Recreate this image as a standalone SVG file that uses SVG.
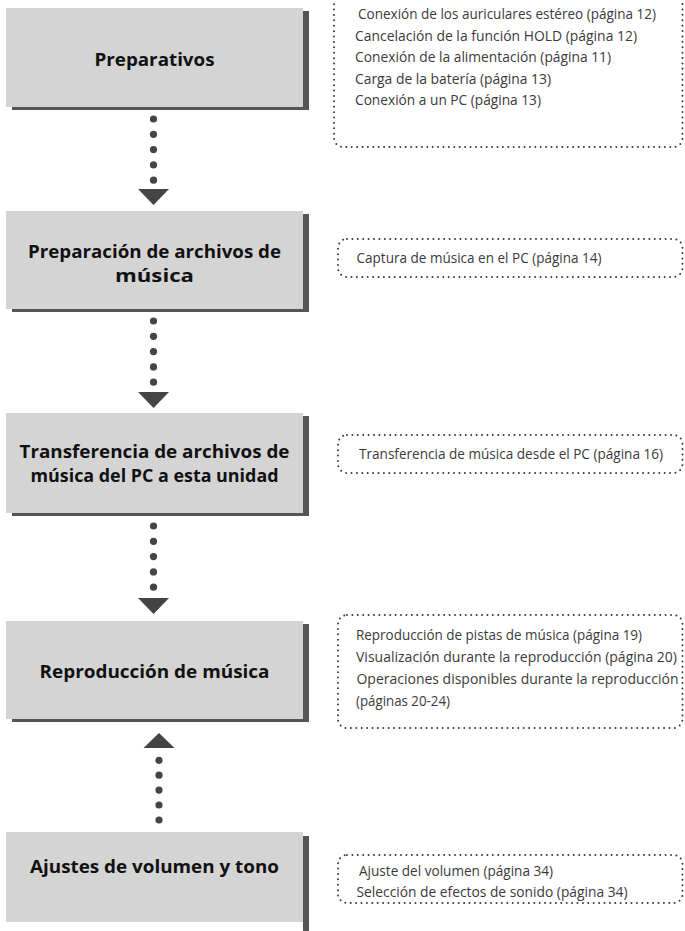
<svg xmlns="http://www.w3.org/2000/svg" width="685" height="931" viewBox="0 0 685 931">
<style>
.box{fill:#d4d4d4}
.sh{fill:#555555}
.title{font-family:"Open Sans","Noto Sans","Liberation Sans",sans-serif;font-weight:700;font-size:18.5px;fill:#111;text-anchor:middle}
.note{fill:none;stroke:#3a3a3a;stroke-width:2;stroke-linecap:round;stroke-dasharray:0 5.4}
.item{font-family:"Open Sans","Noto Sans","Liberation Sans",sans-serif;font-size:14px;fill:#3a3a3a}
.dot{fill:#444}
</style>
<rect width="685" height="931" fill="#ffffff"/>
<g id="connectors">
  <g id="c1">
    <circle class="dot" cx="153.5" cy="119" r="3.6"/>
    <circle class="dot" cx="153.5" cy="134.3" r="3.6"/>
    <circle class="dot" cx="153.5" cy="149.6" r="3.6"/>
    <circle class="dot" cx="153.5" cy="164.9" r="3.6"/>
    <circle class="dot" cx="153.5" cy="180.2" r="3.6"/>
    <polygon class="dot" points="138,189 169,189 153.5,205"/>
  </g>
  <g id="c2">
    <circle class="dot" cx="153.5" cy="321" r="3.6"/>
    <circle class="dot" cx="153.5" cy="336.3" r="3.6"/>
    <circle class="dot" cx="153.5" cy="351.6" r="3.6"/>
    <circle class="dot" cx="153.5" cy="366.9" r="3.6"/>
    <circle class="dot" cx="153.5" cy="382.2" r="3.6"/>
    <polygon class="dot" points="138,392 169,392 153.5,408"/>
  </g>
  <g id="c3">
    <circle class="dot" cx="153.5" cy="526" r="3.6"/>
    <circle class="dot" cx="153.5" cy="541.3" r="3.6"/>
    <circle class="dot" cx="153.5" cy="556.6" r="3.6"/>
    <circle class="dot" cx="153.5" cy="571.9" r="3.6"/>
    <circle class="dot" cx="153.5" cy="587.2" r="3.6"/>
    <polygon class="dot" points="138,598 169,598 153.5,614"/>
  </g>
  <g id="c4">
    <polygon class="dot" points="143.5,748 174.5,748 159,733"/>
    <circle class="dot" cx="159" cy="760.3" r="3.6"/>
    <circle class="dot" cx="159" cy="775.2" r="3.6"/>
    <circle class="dot" cx="159" cy="790.1" r="3.6"/>
    <circle class="dot" cx="159" cy="805" r="3.6"/>
    <circle class="dot" cx="159" cy="820" r="3.6"/>
  </g>
</g>
<g id="n1">
  <rect class="sh" x="12" y="11" width="297" height="99"/>
  <rect class="box" x="6" y="8" width="297" height="99"/>
  <text class="title" x="154.5" y="66" textLength="120" lengthAdjust="spacingAndGlyphs">Preparativos</text>
</g>
<g id="n2">
  <rect class="sh" x="12" y="214" width="297" height="98"/>
  <rect class="box" x="6" y="211" width="297" height="98"/>
  <text class="title" x="154.5" y="258" textLength="253" lengthAdjust="spacingAndGlyphs">Preparación de archivos de</text>
  <text class="title" x="154.5" y="282" textLength="79" lengthAdjust="spacingAndGlyphs">música</text>
</g>
<g id="n3">
  <rect class="sh" x="12" y="416" width="297" height="100"/>
  <rect class="box" x="6" y="413" width="297" height="100"/>
  <text class="title" x="154.5" y="458" textLength="270" lengthAdjust="spacingAndGlyphs">Transferencia de archivos de</text>
  <text class="title" x="154.5" y="482" textLength="248" lengthAdjust="spacingAndGlyphs">música del PC a esta unidad</text>
</g>
<g id="n4">
  <rect class="sh" x="12" y="624" width="297" height="98"/>
  <rect class="box" x="6" y="621" width="297" height="98"/>
  <text class="title" x="154.5" y="678" textLength="230" lengthAdjust="spacingAndGlyphs">Reproducción de música</text>
</g>
<g id="n5">
  <rect class="sh" x="303" y="836" width="6" height="95"/>
  <rect class="box" x="6" y="832" width="297" height="90"/>
  <text class="title" x="154.5" y="873" textLength="249" lengthAdjust="spacingAndGlyphs">Ajustes de volumen y tono</text>
</g>
<g id="note1">
  <rect class="note" x="334" y="-6" width="348.5" height="153" rx="9"/>
  <text class="item" x="358" y="19" textLength="298" lengthAdjust="spacingAndGlyphs">Conexión de los auriculares estéreo (página 12)</text>
  <text class="item" x="355" y="40.5" textLength="282" lengthAdjust="spacingAndGlyphs">Cancelación de la función HOLD (página 12)</text>
  <text class="item" x="355" y="62" textLength="256" lengthAdjust="spacingAndGlyphs">Conexión de la alimentación (página 11)</text>
  <text class="item" x="355" y="83.5" textLength="196" lengthAdjust="spacingAndGlyphs">Carga de la batería (página 13)</text>
  <text class="item" x="355" y="105" textLength="186" lengthAdjust="spacingAndGlyphs">Conexión a un PC (página 13)</text>
</g>
<g id="note2">
  <rect class="note" x="338" y="239" width="344.5" height="38" rx="9"/>
  <text class="item" x="356.5" y="263" textLength="245" lengthAdjust="spacingAndGlyphs">Captura de música en el PC (página 14)</text>
</g>
<g id="note3">
  <rect class="note" x="338" y="435" width="344.5" height="38" rx="9"/>
  <text class="item" x="359" y="459" textLength="304" lengthAdjust="spacingAndGlyphs">Transferencia de música desde el PC (página 16)</text>
</g>
<g id="note4">
  <rect class="note" x="338" y="615" width="344.5" height="113" rx="9"/>
  <text class="item" x="356" y="640" textLength="286" lengthAdjust="spacingAndGlyphs">Reproducción de pistas de música (página 19)</text>
  <text class="item" x="356" y="662" textLength="321" lengthAdjust="spacingAndGlyphs">Visualización durante la reproducción (página 20)</text>
  <text class="item" x="356.5" y="684" textLength="322" lengthAdjust="spacingAndGlyphs">Operaciones disponibles durante la reproducción</text>
  <text class="item" x="356" y="706" textLength="94" lengthAdjust="spacingAndGlyphs">(páginas 20-24)</text>
</g>
<g id="note5">
  <rect class="note" x="338" y="855" width="344.5" height="48" rx="9"/>
  <text class="item" x="359" y="876" textLength="194" lengthAdjust="spacingAndGlyphs">Ajuste del volumen (página 34)</text>
  <text class="item" x="356.5" y="897" textLength="271" lengthAdjust="spacingAndGlyphs">Selección de efectos de sonido (página 34)</text>
</g>
</svg>
